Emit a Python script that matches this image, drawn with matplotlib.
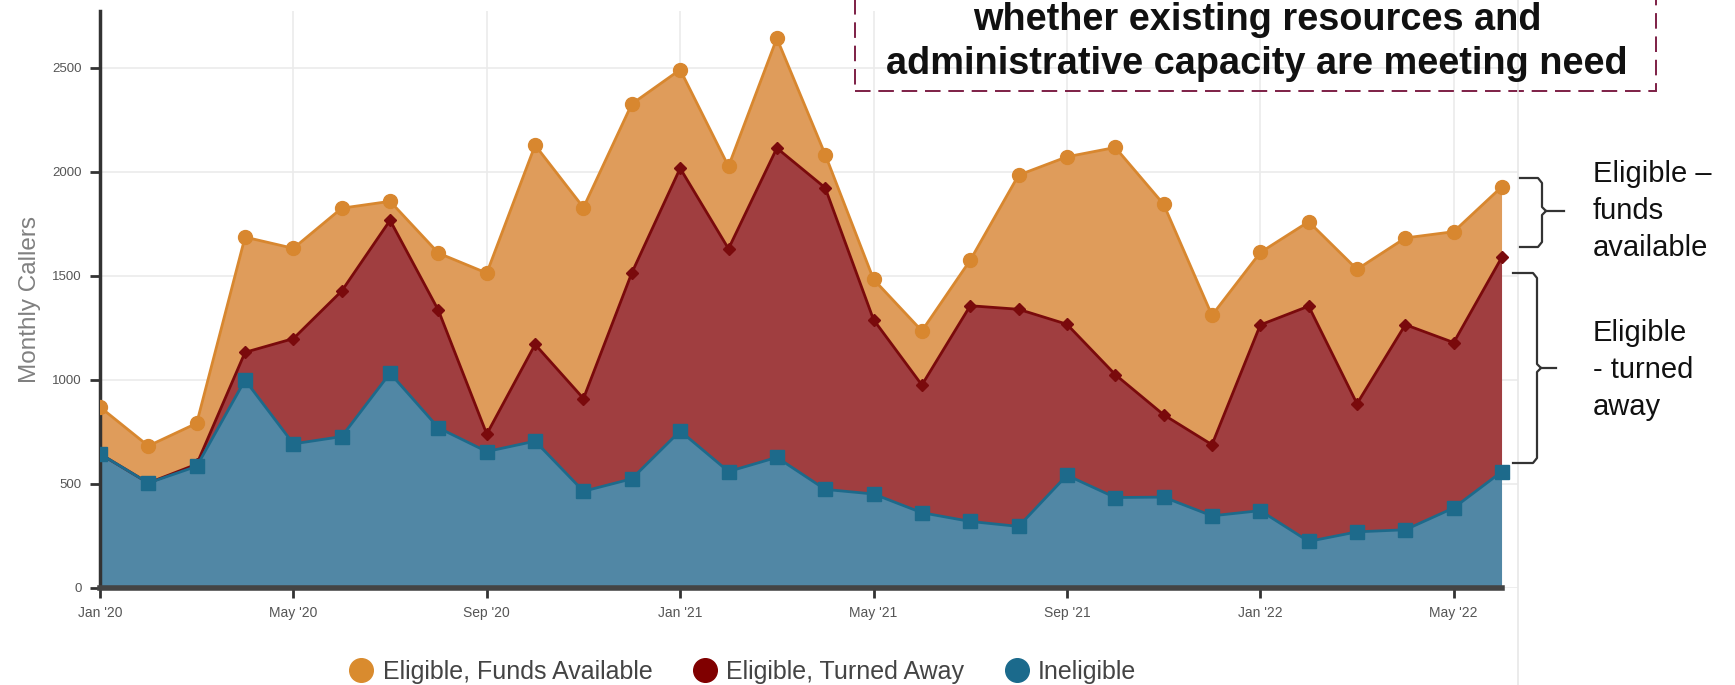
import numpy as np
import matplotlib
matplotlib.use("Agg")
import matplotlib.pyplot as plt
from matplotlib.lines import Line2D
from matplotlib.patches import Rectangle

plt.rcParams['font.family'] = ['Liberation Sans', 'DejaVu Sans']

# monthly callers, Jan 2020 .. Jun 2022
months = np.arange(30)
ineligible = [645, 505, 585, 1000, 693, 728, 1033, 770, 656, 706, 465, 525, 755, 560, 628,
              474, 452, 362, 320, 296, 542, 435, 437, 347, 372, 224, 270, 280, 385, 560]
turned_away = [0, 0, 10, 133, 506, 700, 735, 565, 84, 465, 446, 990, 1263, 1071, 1487,
               1450, 838, 614, 1037, 1044, 726, 591, 396, 342, 893, 1131, 616, 986, 795, 1032]
funds_available = [225, 178, 197, 554, 434, 398, 91, 275, 774, 958, 918, 812, 474, 396, 528,
                   160, 194, 260, 219, 645, 805, 1092, 1012, 622, 348, 406, 646, 417, 533, 338]

tick_pos = [0, 4, 8, 12, 16, 20, 24, 28]
tick_labels = ["Jan '20", "May '20", "Sep '20", "Jan '21", "May '21", "Sep '21", "Jan '22", "May '22"]
y_ticks = [0, 500, 1000, 1500, 2000, 2500]

# colours
blue_fill, blue_line = '#5187a5', '#1d6a8b'
red_fill, red_line = '#a03e40', '#7a0a0c'
orange_fill, orange_line = '#df9c5b', '#d8872f'

W, H = 1735, 685
fig = plt.figure(figsize=(W / 100, H / 100), dpi=100)
ax = fig.add_axes([100 / W, 1 - 588 / H, (1518 - 100) / W, (588 - 11) / H])

ax.stackplot(months, ineligible, turned_away, funds_available,
             colors=[blue_fill, red_fill, orange_fill], zorder=2)

top_blue = np.array(ineligible)
top_red = top_blue + np.array(turned_away)
top_orange = top_red + np.array(funds_available)

ax.plot(months, top_orange, color=orange_line, lw=2, marker='o', ms=10, zorder=3)
ax.plot(months, top_red, color=red_line, lw=2, marker='D', ms=6.5, zorder=4)
ax.plot(months, top_blue, color=blue_line, lw=2, marker='s', ms=10, zorder=5)

ax.set_xlim(0, 29.33)
ax.set_ylim(0, 2774)
ax.set_xticks(tick_pos)
ax.set_xticklabels(tick_labels, fontsize=10, color='#555555')
ax.set_yticks(y_ticks)
ax.set_yticklabels([str(v) for v in y_ticks], fontsize=9.5, color='#555555')
ax.tick_params(axis='both', length=7, width=2, color='#333333', direction='out', pad=6)
ax.set_ylabel('Monthly Callers', fontsize=17.5, color='#808080', labelpad=8)

ax.grid(True, color='#ebebeb', lw=1.2, zorder=0)
ax.set_axisbelow(True)
for s in ['top', 'right']:
    ax.spines[s].set_visible(False)
ax.spines['left'].set_color('#333333')
ax.spines['left'].set_linewidth(2.5)
ax.spines['bottom'].set_color('#444444')
ax.spines['bottom'].set_linewidth(4)
ax.spines['bottom'].set_bounds(0, 29)


def px(x, y):
    return x / W, 1 - y / H


# light full-height line at the panel edge
fig.add_artist(Line2D([1518 / W, 1518 / W], [0, 1], color='#e8e8e8', lw=1.2))

# dashed annotation box (top cut off)
x0, y0 = px(855, 91)
x1, _ = px(1656, 0)
fig.add_artist(Rectangle((x0, y0), x1 - x0, 0.2, transform=fig.transFigure, fill=False,
                         ec='#7d1f45', lw=1.4, ls=(0, (8, 4)), clip_on=False))
fig.text(*px(1257, 20), 'whether existing resources and', ha='center', va='center',
         fontsize=27.3, fontweight='bold', color='#111111')
fig.text(*px(1257, 64), 'administrative capacity are meeting need', ha='center', va='center',
         fontsize=27.3, fontweight='bold', color='#111111')


# braces on the right
def brace(xl, xv, xt, ytop, ymid, ybot):
    pts_top = [(xl, ytop), (xv - 4, ytop), (xv, ytop + 5), (xv, ymid - 4), (xv + 4, ymid), (xt, ymid)]
    pts_bot = [(xv + 4, ymid), (xv, ymid + 4), (xv, ybot - 5), (xv - 4, ybot), (xl, ybot)]
    for pts in (pts_top, pts_bot):
        xs, ys = zip(*[px(a, b) for a, b in pts])
        fig.add_artist(Line2D(xs, ys, color='#333333', lw=1.6))


brace(1520, 1542, 1564, 178, 211, 247)
brace(1513, 1537, 1556, 273, 368, 463)

fig.text(*px(1593, 211), 'Eligible –\nfunds\navailable', ha='left', va='center',
         fontsize=21, color='#111111', linespacing=1.42)
fig.text(*px(1593, 370), 'Eligible\n- turned\naway', ha='left', va='center',
         fontsize=21, color='#111111', linespacing=1.42)

# legend
handles = [Line2D([], [], ls='none', marker='o', ms=17, color=c)
           for c in ['#d98b2e', '#800000', '#1b6a8c']]
fig.legend(handles, ['Eligible, Funds Available', 'Eligible, Turned Away', 'Ineligible'],
           loc='center', bbox_to_anchor=(0.428, 1 - 672 / H), ncol=3, frameon=False,
           fontsize=18, handlelength=1.0, handletextpad=0.35, columnspacing=1.6,
           labelcolor='#444444')

fig.savefig('out.png', dpi=100)
